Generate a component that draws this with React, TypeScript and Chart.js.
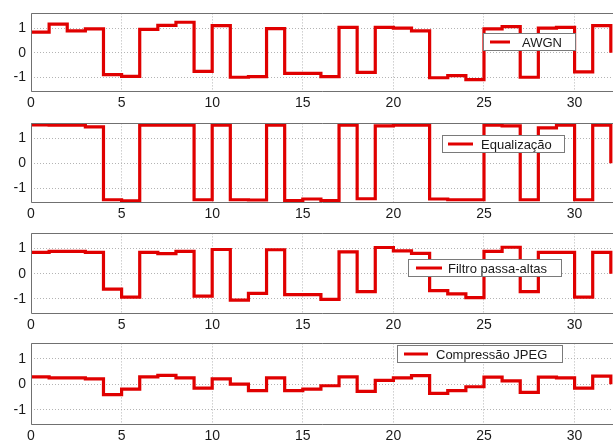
import React, { useEffect, useRef } from "react";
import { Chart, registerables } from "chart.js";

Chart.register(...registerables);

const bitIndex = [0, 1, 2, 3, 4, 5, 6, 7, 8, 9, 10, 11, 12, 13, 14, 15, 16, 17, 18, 19, 20, 21, 22, 23, 24, 25, 26, 27, 28, 29, 30, 31, 32];

const awgn = [0.84, 1.16, 0.89, 0.97, -0.89, -0.96, 0.95, 1.11, 1.24, -0.76, 1.1, -1.0, -0.97, 0.98, -0.84, -0.84, -0.97, 1.03, -0.8, 1.03, 1.0, 0.89, -1.02, -0.93, -1.1, 0.97, 1.06, -1.0, 1.0, 1.03, -0.78, 1.1, 0.0];
const equalizacao = [1.54, 1.53, 1.53, 1.46, -1.47, -1.51, 1.53, 1.53, 1.53, -1.47, 1.53, -1.47, -1.48, 1.53, -1.5, -1.44, -1.5, 1.53, -1.43, 1.5, 1.53, 1.53, -1.44, -1.47, -1.47, 1.53, 1.5, -1.47, 1.42, 1.53, -1.47, 1.53, 0.0];
const filtro = [0.85, 0.89, 0.89, 0.85, -0.61, -0.93, 0.85, 0.8, 0.89, -0.89, 0.96, -1.05, -0.78, 0.95, -0.83, -0.83, -1.02, 0.87, -0.71, 1.04, 0.91, 0.81, -0.67, -0.8, -0.95, 0.89, 1.05, -0.71, 0.85, 0.85, -0.93, 0.85, 0.0];
const jpeg = [0.29, 0.25, 0.25, 0.21, -0.41, -0.19, 0.29, 0.35, 0.25, -0.15, 0.21, 0.0, -0.25, 0.25, -0.25, -0.19, -0.06, 0.29, -0.28, 0.15, 0.25, 0.34, -0.36, -0.25, -0.1, 0.28, 0.13, -0.32, 0.28, 0.25, -0.15, 0.32, 0.0];

const xTickValues = [0, 5, 10, 15, 20, 25, 30];
const yTickValues = [-1, 0, 1];
const seriesNames = ["AWGN", "Equalização", "Filtro passa-altas", "Compressão JPEG"];
const seriesValues = [awgn, equalizacao, filtro, jpeg];

// layout per panel: canvas height, plot top, plot bottom, legend box [x1, y1, x2, y2], line sample [x1, x2], text x
const panels = [
  { h: 110, top: 9, bottom: 92, box: [483, 33, 576, 51], line: [490, 510], tx: 522 },
  { h: 110, top: 10, bottom: 93, box: [442, 25, 565, 43], line: [448, 473], tx: 481 },
  { h: 110, top: 10, bottom: 94, box: [408, 39, 562, 57], line: [416, 442], tx: 448 },
  { h: 112, top: 12, bottom: 95, box: [397, 15, 563, 33], line: [404, 428], tx: 436 },
];

const RED = "#e00000";
const W = 613;

function Panel({ idx }: { idx: number }) {
  const ref = useRef<HTMLCanvasElement>(null);
  useEffect(() => {
    const p = panels[idx];
    const name = seriesNames[idx];
    const vals = seriesValues[idx];
    const framePlugin = {
      id: "frameLegend" + idx,
      afterDatasetsDraw(chart: any) {
        const { ctx, chartArea } = chart;
        ctx.save();
        ctx.strokeStyle = "#707070";
        ctx.lineWidth = 1;
        ctx.setLineDash([]);
        ctx.beginPath();
        const l = Math.round(chartArea.left) + 0.5;
        const t = Math.round(chartArea.top) + 0.5;
        const b = Math.round(chartArea.bottom) - 0.5;
        ctx.moveTo(W, t);
        ctx.lineTo(l, t);
        ctx.lineTo(l, b);
        ctx.lineTo(W, b);
        ctx.stroke();
        // legend
        const [x1, y1, x2, y2] = p.box;
        ctx.fillStyle = "#ffffff";
        ctx.fillRect(x1, y1, x2 - x1, y2 - y1);
        ctx.strokeStyle = "#7a7a7a";
        ctx.strokeRect(x1 + 0.5, y1 + 0.5, x2 - x1 - 1, y2 - y1 - 1);
        const cy = (y1 + y2) / 2;
        ctx.strokeStyle = RED;
        ctx.lineWidth = 3;
        ctx.beginPath();
        ctx.moveTo(p.line[0], cy);
        ctx.lineTo(p.line[1], cy);
        ctx.stroke();
        ctx.fillStyle = "#1a1a1a";
        ctx.font = '13px "Liberation Sans", Arial, sans-serif';
        ctx.textBaseline = "middle";
        ctx.textAlign = "left";
        ctx.fillText(name, p.tx, cy + 1);
        ctx.restore();
      },
    };
    const chart = new Chart(ref.current!, {
      type: "line",
      data: {
        datasets: [
          {
            label: name,
            data: bitIndex.map((x, i) => ({ x, y: vals[i] })),
            borderColor: RED,
            backgroundColor: RED,
            borderWidth: 3.2,
            pointRadius: 0,
            stepped: "before",
            fill: false,
          },
        ],
      },
      options: {
        animation: false,
        responsive: false,
        devicePixelRatio: 1,
        layout: { padding: { top: p.top, right: 0, left: 0, bottom: 0 } },
        plugins: { legend: { display: false }, tooltip: { enabled: false } },
        scales: {
          x: {
            type: "linear",
            min: 0,
            max: 32.12,
            afterBuildTicks: (s: any) => {
              s.ticks = xTickValues.map((v) => ({ value: v }));
            },
            afterFit: (s: any) => {
              s.height = p.h - p.bottom;
            },
            grid: { color: "#b4b4b4", lineWidth: 1, drawTicks: false },
            border: { display: false, dash: [1, 2] },
            ticks: {
              padding: 3,
              maxRotation: 0,
              autoSkip: false,
              color: "#1a1a1a",
              font: { family: '"Liberation Sans", Arial, sans-serif', size: 14 },
            },
          },
          y: {
            type: "linear",
            min: -1.6,
            max: 1.6,
            afterBuildTicks: (s: any) => {
              s.ticks = yTickValues.map((v) => ({ value: v }));
            },
            afterFit: (s: any) => {
              s.width = 31;
            },
            grid: { color: "#b4b4b4", lineWidth: 1, drawTicks: false },
            border: { display: false, dash: [1, 2] },
            ticks: {
              padding: 5,
              color: "#1a1a1a",
              font: { family: '"Liberation Sans", Arial, sans-serif', size: 14 },
            },
          },
        },
      },
      plugins: [framePlugin],
    } as any);
    return () => chart.destroy();
  }, [idx]);
  const p = panels[idx];
  return (
    <div style={{ width: W, height: p.h, overflow: "hidden" }}>
      <canvas ref={ref} width={W} height={p.h} style={{ display: "block", width: W, height: p.h }} />
    </div>
  );
}

export default function App() {
  useEffect(() => {
    document.body.style.margin = "0";
    document.body.style.background = "#ffffff";
  }, []);
  return (
    <div style={{ width: W, height: 442, overflow: "hidden", background: "#fff" }}>
      {panels.map((_, i) => (
        <Panel key={i} idx={i} />
      ))}
    </div>
  );
}
